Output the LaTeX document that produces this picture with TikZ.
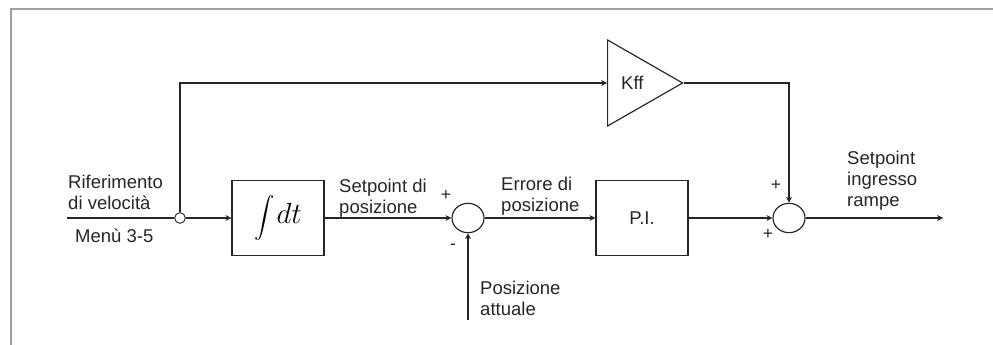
\documentclass[tikz,border=0pt]{standalone}
\usepackage{amsmath}
\usepackage{fontspec}
\setmainfont{Liberation Sans}
\usetikzlibrary{positioning,arrows.meta,shapes.geometric}
\definecolor{ink}{HTML}{262626}
\tikzset{
  block/.style={rectangle, draw=ink, line width=1pt, minimum width=2.76cm, minimum height=2.25cm, inner sep=0pt},
  summer/.style={ellipse, draw=ink, line width=1pt, minimum width=0.96cm, minimum height=0.88cm, inner sep=0pt},
  tap/.style={circle, draw=ink, fill=white, line width=0.8pt, minimum size=0.32cm, inner sep=0pt},
  gain/.style={isosceles triangle, isosceles triangle stretches, shape border rotate=0, draw=ink, line width=1pt,
               minimum width=2.58cm, minimum height=2.25cm, inner sep=0pt},
  sig/.style={draw=ink, line width=1pt, -{Stealth[length=5pt,width=5pt,inset=1.5pt]}},
  wire/.style={draw=ink, line width=1pt},
  lbl/.style={anchor=north west, inner sep=0pt, align=left, text=ink, font=\fontsize{15.8}{18}\selectfont},
  sign/.style={inner sep=0pt, text=ink, font=\fontsize{15}{15}\selectfont},
  frame/.style={draw=gray!75, line width=1pt},
}

\begin{document}
\begin{tikzpicture}[x=0.03cm, y=-0.03cm]
  \useasboundingbox (0,0) rectangle (993,345);
  \draw[frame] (11,345) -- (11,9) -- (993,9);

  % blocks along the main line
  \node[tap] (junc) at (180,218) {};
  \node[block] (integ) at (278,218) {{\fontsize{18}{22}\selectfont$\displaystyle\int$}\,{\fontsize{28}{32}\selectfont$dt$}};
  \node[summer] (sum1) at (468,218) {};
  \node[block, font=\fontsize{15.8}{18}\selectfont, text=ink] (pi) at (642,218) {P.I.};
  \node[summer] (sum2) at (789,218) {};
  \node[gain, anchor=lower side, font=\fontsize{15.8}{18}\selectfont, text=ink] (kff) at (607,83) {Kff};

  \coordinate (vin) at (67,218);
  \coordinate (vout) at (943,218);
  \coordinate (fb) at (468,320);

  % connectors
  \draw[wire] (vin) -- (junc.west);
  \draw[sig] (junc.east) -- (integ.west);
  \draw[sig] (junc.north) |- (kff.lower side);
  \draw[sig] (integ.east) -- (sum1.west);
  \draw[sig] (fb) -- (sum1.south);
  \draw[sig] (sum1.east) -- (pi.west);
  \draw[sig] (pi.east) -- (sum2.west);
  \draw[sig] (kff.apex) -| (sum2.north);
  \draw[sig] (sum2.east) -- (vout);

  % signal names
  \node[lbl] (lref) at (68,175) {Riferimento\\di velocità};
  \node[lbl] (lmenu) at (75,229) {Menù 3-5};
  \node[lbl] (lsp) at (339,179) {Setpoint di\\posizione};
  \node[lbl] (lerr) at (501,177) {Errore di\\posizione};
  \node[lbl] (lpos) at (480,281) {Posizione\\attuale};
  \node[lbl] (lout) at (847,151) {Setpoint\\ingresso\\rampe};

  % signs at the summing points
  \node[sign] (s1a) at (446,195) {+};
  \node[sign] (s1b) at (453,247) {-};
  \node[sign] (s2a) at (776,185) {+};
  \node[sign] (s2b) at (768,234) {+};
\end{tikzpicture}
\end{document}
